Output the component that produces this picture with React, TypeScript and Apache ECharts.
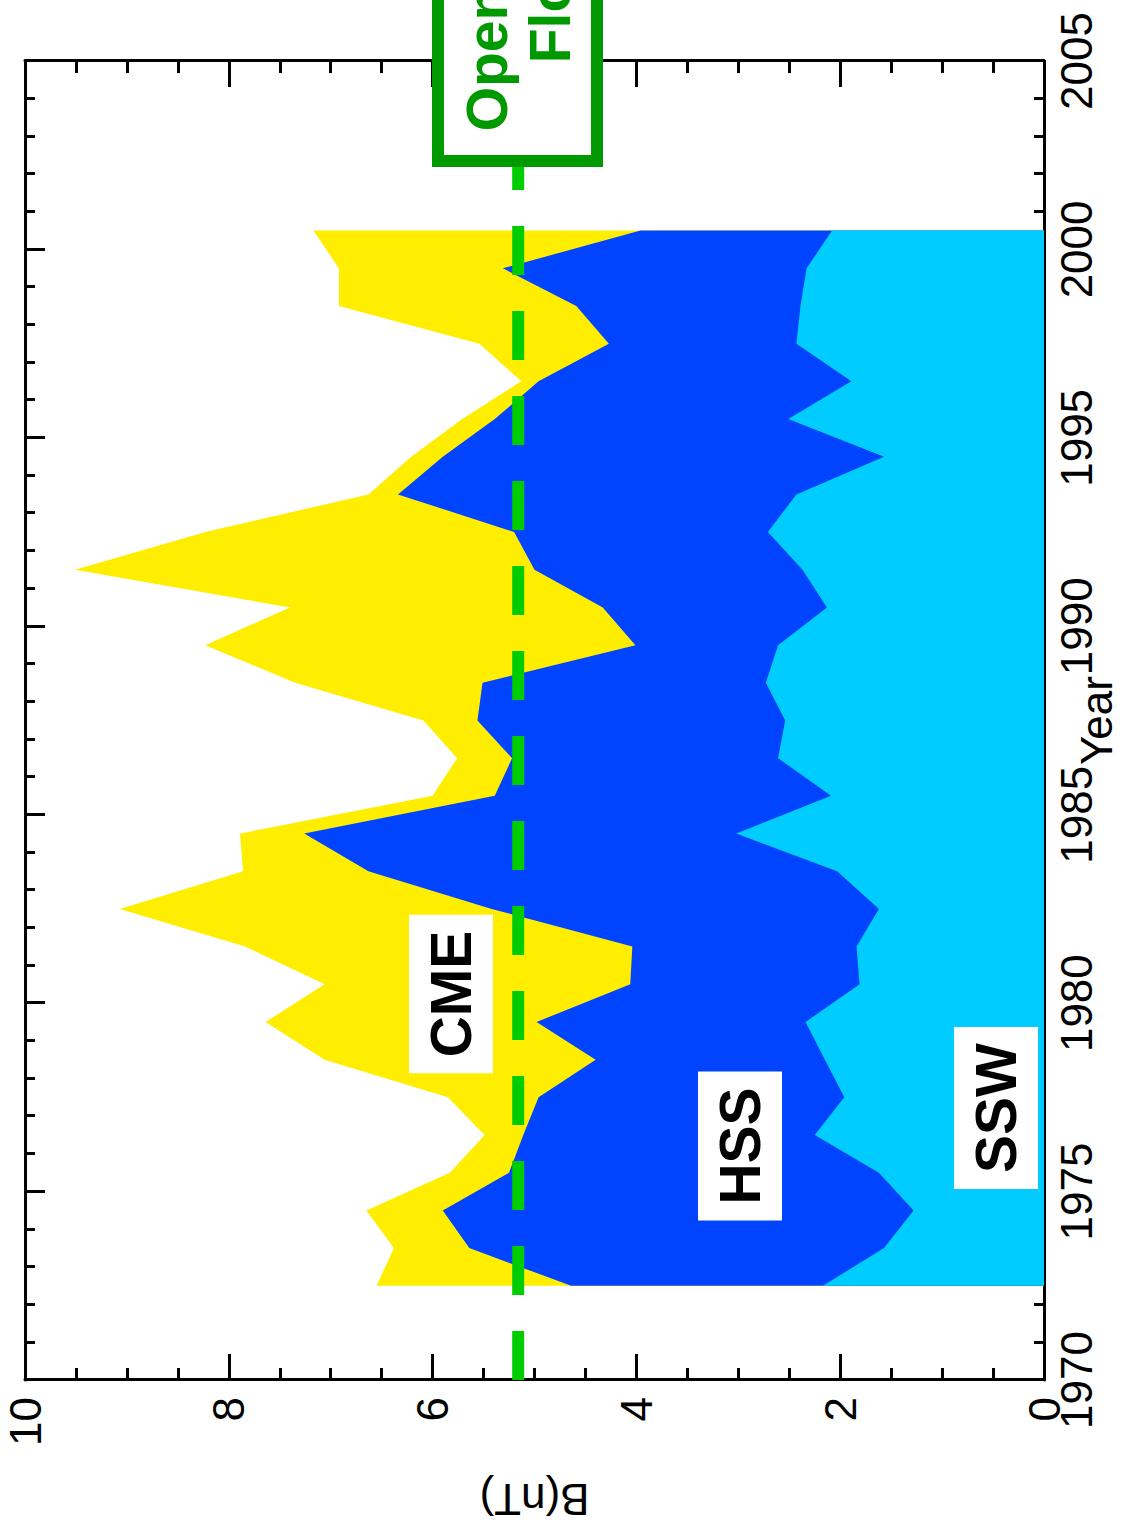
import React, { useEffect, useRef } from "react";
import * as echarts from "echarts";

// Yearly mean field strength B (nT), split by solar wind type.
// Each array holds the top of a layer: SSW, SSW+HSS, SSW+HSS+CME.
const YEARS = [
  1972.5, 1973.5, 1974.5, 1975.5, 1976.5, 1977.5, 1978.5, 1979.5, 1980.5, 1981.5,
  1982.5, 1983.5, 1984.5, 1985.5, 1986.5, 1987.5, 1988.5, 1989.5, 1990.5, 1991.5,
  1992.5, 1993.5, 1994.5, 1995.5, 1996.5, 1997.5, 1998.5, 1999.5, 2000.5,
];
const TOTAL_B = [
  6.55, 6.38, 6.65, 5.83, 5.49, 5.85, 7.06, 7.64, 7.06, 7.84,
  9.07, 7.86, 7.89, 6.0, 5.76, 6.09, 7.35, 8.23, 7.4, 9.51,
  8.23, 6.63, 6.21, 5.71, 5.13, 5.54, 6.92, 6.92, 7.17,
];
const SSW_HSS_B = [
  4.64, 5.64, 5.9, 5.25, 5.11, 4.96, 4.4, 4.98, 4.06, 4.04,
  5.42, 6.63, 7.26, 5.39, 5.22, 5.56, 5.51, 4.01, 4.33, 5.0,
  5.2, 6.34, 5.9, 5.39, 4.96, 4.27, 4.59, 5.31, 3.96,
];
const SSW_B = [
  2.17, 1.57, 1.28, 1.62, 2.25, 1.96, 2.15, 2.34, 1.81, 1.84,
  1.62, 2.03, 3.02, 2.09, 2.61, 2.54, 2.73, 2.61, 2.13, 2.37,
  2.71, 2.43, 1.57, 2.51, 1.89, 2.43, 2.39, 2.33, 2.08,
];

// Open flux floor level
const FLOOR_B = 5.16;
const FLOOR_YEARS = [1970, 2005];

const YEAR_RANGE = [1970, 2005];
const YEAR_STEP = 5;
const B_RANGE = [0, 10];
const B_STEP = 2;

const FONT = '"Liberation Sans", Arial, Helvetica, sans-serif';

const tickStyle = { color: "#000", width: 3 };
const axisLine = { show: true, onZero: false, lineStyle: { color: "#000", width: 3 } };

function yearAxis(position: "bottom" | "top", withLabels: boolean) {
  return {
    type: "value",
    position,
    min: YEAR_RANGE[0],
    max: YEAR_RANGE[1],
    interval: YEAR_STEP,
    axisLine,
    axisTick: { show: true, inside: true, length: 20, lineStyle: tickStyle },
    minorTick: { show: true, splitNumber: 5, length: 10, lineStyle: tickStyle },
    splitLine: { show: false },
    minorSplitLine: { show: false },
    axisLabel: withLabels
      ? {
          show: true,
          margin: 10,
          fontSize: 44,
          color: "#000",
          fontFamily: FONT,
          formatter: (v: number) => String(v),
        }
      : { show: false },
    name: withLabels ? "Year" : "",
    nameLocation: "middle",
    nameGap: 35,
    nameMoveOverlap: false,
    nameTextStyle: { fontSize: 44, lineHeight: 34, color: "#000", fontFamily: FONT },
  };
}

function fieldAxis(position: "left" | "right", withLabels: boolean) {
  return {
    type: "value",
    position,
    min: B_RANGE[0],
    max: B_RANGE[1],
    interval: B_STEP,
    axisLine,
    axisTick: { show: true, inside: true, length: 26, lineStyle: tickStyle },
    minorTick: { show: true, splitNumber: 4, length: 12, lineStyle: tickStyle },
    splitLine: { show: false },
    minorSplitLine: { show: false },
    axisLabel: withLabels
      ? {
          show: true,
          margin: 17,
          fontSize: 44,
          color: "#000",
          fontFamily: FONT,
          formatter: (v: number) => String(v),
        }
      : { show: false },
    name: withLabels ? "B(nT)" : "",
    nameLocation: "middle",
    nameGap: 97,
    nameMoveOverlap: false,
    nameTextStyle: { fontSize: 44, color: "#000", fontFamily: FONT },
  };
}

function layer(name: string, values: number[], color: string) {
  return {
    type: "line",
    name,
    data: YEARS.map((y, i) => [y, values[i]]),
    symbol: "none",
    showSymbol: false,
    silent: true,
    lineStyle: { width: 0, color },
    itemStyle: { color },
    areaStyle: { color, opacity: 1 },
    z: 2,
  };
}

function tag(text: string, x: number, y: number) {
  return {
    type: "text",
    z: 101,
    x,
    y,
    style: {
      text,
      fill: "#000",
      font: `bold 57px ${FONT}`,
      align: "center",
      verticalAlign: "middle",
      backgroundColor: "#fff",
      padding: [13, 16],
      lineHeight: 58,
    },
  };
}

export default function App() {
  const ref = useRef<HTMLDivElement>(null);

  useEffect(() => {
    if (!ref.current) return;
    const chart = echarts.init(ref.current, null, { renderer: "svg" });
    chart.setOption({
      animation: false,
      backgroundColor: "#fff",
      grid: {
        left: 157,
        right: 61,
        top: 25,
        bottom: 78,
        containLabel: false,
        outerBoundsMode: "none",
      },
      xAxis: [yearAxis("bottom", true), yearAxis("top", false)],
      yAxis: [fieldAxis("left", true), fieldAxis("right", false)],
      series: [
        layer("CME", TOTAL_B, "#FFEE00"),
        layer("HSS", SSW_HSS_B, "#0044FF"),
        layer("SSW", SSW_B, "#00CCFF"),
        {
          type: "line",
          name: "Open Flux Floor",
          data: FLOOR_YEARS.map((y) => [y, FLOOR_B]),
          symbol: "none",
          silent: true,
          lineStyle: { color: "#00CC00", width: 12, type: [49, 36], cap: "butt" },
          z: 3,
        },
      ],
      graphic: [
        {
          type: "rect",
          z: 100,
          shape: { x: 1376, y: 438, width: 400, height: 159 },
          style: { fill: "#fff", stroke: "#009900", lineWidth: 12 },
        },
        {
          type: "text",
          z: 101,
          x: 1545,
          y: 518,
          style: {
            text: "Open Flux\nFloor",
            fill: "#009900",
            font: `bold 57px ${FONT}`,
            align: "center",
            verticalAlign: "middle",
            lineHeight: 63,
          },
        },
        tag("CME", 543, 451),
        tag("HSS", 391, 740),
        tag("SSW", 429, 996),
      ],
    });
    return () => chart.dispose();
  }, []);

  return (
    <div
      style={{
        position: "fixed",
        left: 0,
        top: 0,
        width: 1122,
        height: 1537,
        overflow: "hidden",
        background: "#fff",
      }}
    >
      <div
        ref={ref}
        style={{
          position: "absolute",
          left: 0,
          top: 0,
          width: 1537,
          height: 1122,
          transformOrigin: "0 0",
          transform: "translate(0px, 1537px) rotate(-90deg)",
        }}
      />
    </div>
  );
}
